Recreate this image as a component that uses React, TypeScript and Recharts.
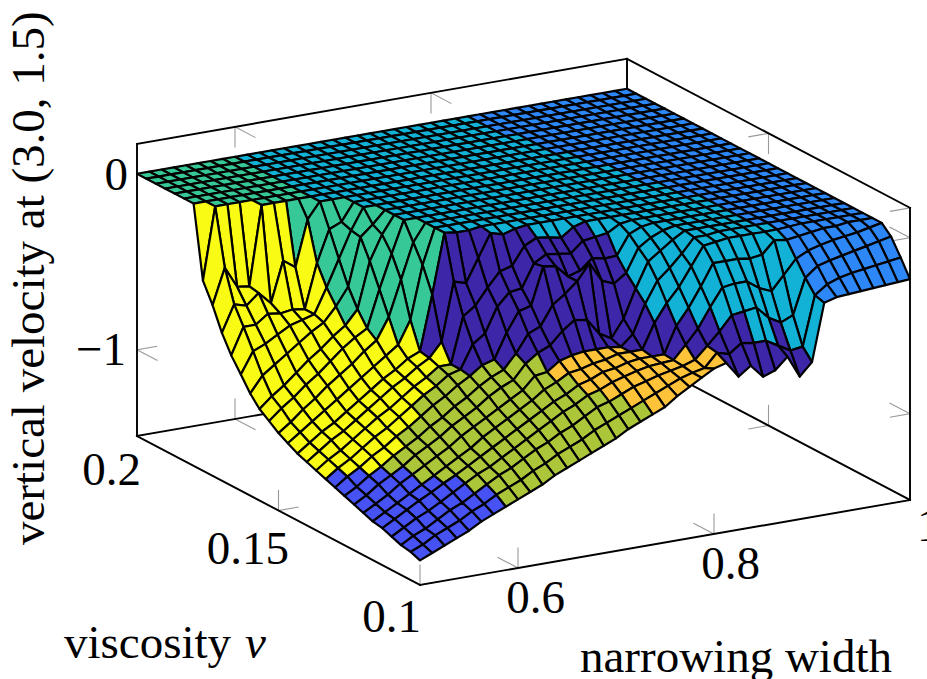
import { ScatterChart, Scatter, XAxis, YAxis } from 'recharts';

const WIDTH = 927;
const HEIGHT = 679;

const narrowingWidths = [
  0.5, 0.5125, 0.525, 0.5375, 0.55, 0.5625, 0.575, 0.5875, 0.6, 0.6125, 0.625, 0.6375, 0.65, 0.6625, 0.675, 0.6875,
  0.7, 0.7125, 0.725, 0.7375, 0.75, 0.7625, 0.775, 0.7875, 0.8, 0.8125, 0.825, 0.8375, 0.85, 0.8625, 0.875, 0.8875,
  0.9, 0.9125, 0.925, 0.9375, 0.95, 0.9625, 0.975, 0.9875, 1,
];
const viscosities = [
  0.1, 0.1033, 0.1067, 0.11, 0.1133, 0.1167, 0.12, 0.1233, 0.1267, 0.13, 0.1333, 0.1367, 0.14, 0.1433, 0.1467, 0.15,
  0.1533, 0.1567, 0.16, 0.1633, 0.1667, 0.17, 0.1733, 0.1767, 0.18, 0.1833, 0.1867, 0.19, 0.1933, 0.1967, 0.2,
];

// one row per narrowing width, one value per viscosity
const velocityRows = [
  [-1.35,-1.33,-1.32,-1.30,-1.28,-1.27,-1.25,-1.23,-1.21,-1.19,-1.17,-1.15,-1.13,-1.11,-1.08,-1.05,-1.01,-.97,-.91,-.83,-.75,-.65,-.52,-.41,0,0,0,0,0,0,0],
  [-1.32,-1.30,-1.28,-1.26,-1.24,-1.23,-1.21,-1.19,-1.17,-1.14,-1.12,-1.10,-1.08,-1.06,-1.03,-1.00,-.95,-.91,-.82,-.71,-.60,-.50,-.32,0,0,0,0,0,0,0,0],
  [-1.29,-1.26,-1.25,-1.22,-1.20,-1.19,-1.17,-1.14,-1.12,-1.10,-1.08,-1.06,-1.03,-1.01,-.98,-.94,-.90,-.86,-.77,-.68,-.60,-.52,-.44,0,0,0,0,0,0,0,0],
  [-1.26,-1.23,-1.21,-1.19,-1.16,-1.15,-1.12,-1.10,-1.08,-1.05,-1.03,-1.01,-.99,-.97,-.93,-.89,-.84,-.80,-.72,-.64,-.55,-.46,-.45,0,0,0,0,0,0,0,0],
  [-1.23,-1.20,-1.17,-1.15,-1.125,-1.11,-1.08,-1.06,-1.03,-1.01,-.98,-.96,-.94,-.92,-.88,-.83,-.79,-.74,-.67,-.60,-.56,-.53,0,0,0,0,0,0,0,0,0],
  [-1.19,-1.16,-1.14,-1.11,-1.085,-1.07,-1.04,-1.01,-.99,-.96,-.94,-.91,-.89,-.87,-.83,-.78,-.73,-.69,-.62,-.58,-.55,-.30,0,0,0,0,0,0,0,0,0],
  [-1.16,-1.13,-1.10,-1.07,-1.05,-1.03,-1.00,-.97,-.95,-.92,-.89,-.87,-.84,-.82,-.78,-.73,-.67,-.63,-.58,-.56,-.56,-.35,0,0,0,0,0,0,0,0,0],
  [-1.13,-1.09,-1.06,-1.03,-1.01,-.99,-.96,-.93,-.90,-.87,-.84,-.82,-.79,-.77,-.73,-.67,-.62,-.58,-.50,-.42,-.31,-.09,0,0,0,0,0,0,0,0,0],
  [-1.10,-1.06,-1.02,-1.00,-.97,-.95,-.91,-.88,-.86,-.82,-.79,-.77,-.75,-.73,-.68,-.62,-.58,-.50,-.40,-.27,-.13,0,0,0,0,0,0,0,0,0,0],
  [-1.07,-1.03,-.99,-.96,-.93,-.90,-.87,-.84,-.81,-.78,-.75,-.73,-.70,-.68,-.63,-.50,-.37,-.24,-.13,-.12,-.10,0,0,0,0,0,0,0,0,0,0],
  [-1.04,-.99,-.95,-.92,-.89,-.86,-.83,-.80,-.77,-.73,-.70,-.68,-.66,-.65,-.50,-.30,-.18,-.10,-.07,0,0,0,0,0,0,0,0,0,0,0,0],
  [-1.00,-.96,-.91,-.88,-.85,-.82,-.79,-.75,-.72,-.69,-.68,-.68,-.58,-.34,-.20,-.10,0,0,0,0,0,0,0,0,0,0,0,0,0,0,0],
  [-.97,-.92,-.88,-.84,-.81,-.78,-.75,-.71,-.68,-.64,-.55,-.42,-.25,0,0,0,0,0,0,0,0,0,0,0,0,0,0,0,0,0,0],
  [-.94,-.89,-.84,-.80,-.77,-.74,-.71,-.68,-.65,-.62,-.50,-.37,-.27,-.01,0,0,0,0,0,0,0,0,0,0,0,0,0,0,0,0,0],
  [-.91,-.86,-.81,-.76,-.73,-.69,-.64,-.60,-.57,-.48,-.36,-.28,-.14,-.01,0,0,0,0,0,0,0,0,0,0,0,0,0,0,0,0,0],
  [-.88,-.82,-.77,-.73,-.70,-.66,-.63,-.55,-.47,-.37,-.29,-.20,-.01,0,0,0,0,0,0,0,0,0,0,0,0,0,0,0,0,0,0],
  [-.85,-.79,-.73,-.69,-.66,-.62,-.58,-.52,-.44,-.35,-.28,-.18,-.03,0,0,0,0,0,0,0,0,0,0,0,0,0,0,0,0,0,0],
  [-.81,-.76,-.71,-.67,-.64,-.61,-.56,-.45,-.33,-.14,-.15,-.08,-.01,0,0,0,0,0,0,0,0,0,0,0,0,0,0,0,0,0,0],
  [-.78,-.73,-.68,-.64,-.61,-.59,-.55,-.40,-.28,-.15,-.11,-.045,0,0,0,0,0,0,0,0,0,0,0,0,0,0,0,0,0,0,0],
  [-.75,-.70,-.65,-.62,-.60,-.58,-.55,-.41,-.22,-.22,-.12,-.055,0,0,0,0,0,0,0,0,0,0,0,0,0,0,0,0,0,0,0],
  [-.72,-.67,-.63,-.60,-.58,-.56,-.55,-.50,-.13,-.20,-.13,-.07,0,0,0,0,0,0,0,0,0,0,0,0,0,0,0,0,0,0,0],
  [-.67,-.64,-.61,-.585,-.57,-.56,-.56,-.54,-.24,-.14,-.07,-.02,0,0,0,0,0,0,0,0,0,0,0,0,0,0,0,0,0,0,0],
  [-.63,-.61,-.595,-.58,-.57,-.56,-.50,-.44,-.27,-.155,-.06,0,0,0,0,0,0,0,0,0,0,0,0,0,0,0,0,0,0,0,0],
  [-.59,-.59,-.58,-.575,-.57,-.42,-.34,-.28,-.22,-.15,-.05,0,0,0,0,0,0,0,0,0,0,0,0,0,0,0,0,0,0,0,0],
  [-.55,-.575,-.557,-.50,-.42,-.32,-.22,-.14,-.09,-.04,-.01,0,0,0,0,0,0,0,0,0,0,0,0,0,0,0,0,0,0,0,0],
  [-.53,-.50,-.49,-.42,-.33,-.24,-.16,-.09,-.045,-.01,0,0,0,0,0,0,0,0,0,0,0,0,0,0,0,0,0,0,0,0,0],
  [-.62,-.52,-.42,-.31,-.22,-.135,-.09,-.04,-.015,0,0,0,0,0,0,0,0,0,0,0,0,0,0,0,0,0,0,0,0,0,0],
  [-.57,-.47,-.34,-.21,-.10,-.03,-.01,0,0,0,0,0,0,0,0,0,0,0,0,0,0,0,0,0,0,0,0,0,0,0,0],
  [-.645,-.48,-.33,-.20,-.10,-.02,-.01,0,0,0,0,0,0,0,0,0,0,0,0,0,0,0,0,0,0,0,0,0,0,0,0],
  [-.62,-.48,-.32,-.20,-.10,-.01,0,0,0,0,0,0,0,0,0,0,0,0,0,0,0,0,0,0,0,0,0,0,0,0,0],
  [-.555,-.52,-.39,-.25,-.11,-.01,0,0,0,0,0,0,0,0,0,0,0,0,0,0,0,0,0,0,0,0,0,0,0,0,0],
  [-.68,-.56,-.43,-.28,-.10,-.01,0,0,0,0,0,0,0,0,0,0,0,0,0,0,0,0,0,0,0,0,0,0,0,0,0],
  [-.61,-.55,-.40,-.20,-.03,-.01,0,0,0,0,0,0,0,0,0,0,0,0,0,0,0,0,0,0,0,0,0,0,0,0,0],
  [-.285,-.27,-.20,-.12,-.04,-.01,0,0,0,0,0,0,0,0,0,0,0,0,0,0,0,0,0,0,0,0,0,0,0,0,0],
  [-.265,-.22,-.145,-.085,-.03,-.005,0,0,0,0,0,0,0,0,0,0,0,0,0,0,0,0,0,0,0,0,0,0,0,0,0],
  [-.26,-.195,-.125,-.065,-.02,0,0,0,0,0,0,0,0,0,0,0,0,0,0,0,0,0,0,0,0,0,0,0,0,0,0],
  [-.255,-.18,-.11,-.05,-.01,0,0,0,0,0,0,0,0,0,0,0,0,0,0,0,0,0,0,0,0,0,0,0,0,0,0],
  [-.25,-.17,-.095,-.04,-.01,0,0,0,0,0,0,0,0,0,0,0,0,0,0,0,0,0,0,0,0,0,0,0,0,0,0],
  [-.245,-.16,-.08,-.03,0,0,0,0,0,0,0,0,0,0,0,0,0,0,0,0,0,0,0,0,0,0,0,0,0,0,0],
  [-.24,-.15,-.065,-.015,0,0,0,0,0,0,0,0,0,0,0,0,0,0,0,0,0,0,0,0,0,0,0,0,0,0,0],
  [-.235,-.14,-.05,0,0,0,0,0,0,0,0,0,0,0,0,0,0,0,0,0,0,0,0,0,0,0,0,0,0,0,0],
];

// flow regime of each cell, run-length per width row
const regimeRows = [
  '10L14Y6G', '9L14Y7G', '8L15Y7G', '7L1O15Y7G', '5L3O14Y8G', '4L5O13Y8G', '2L7O12Y9G', '10O7Y13G',
  '10O5Y6G9C', '11O3Y7G9C', '11O1Y1I6G11C', '9O4I3G14C', '9O4I17C', '8O5I17C', '7O6I17C', '5O1R6I18C',
  '3O3R6I18C', '2O4R6I18C', '1O5R5I19C', '6R5I19C', '6R5I19C', '5R6I19C', '4R6I20C', '3R2I25C',
  '2R2I26C', '3I27C', '2I28C', '2I24C4B', '1I21C8B', '1I18C11B', '2I13C15B', '1I11C18B', '6C24B',
  '30B', '30B', '30B', '30B', '30B', '30B', '30B',
];
const regimeColors: Record<string, string> = {
  I: '#3e26a8',
  L: '#4752f4',
  B: '#2d87f7',
  C: '#12b1d6',
  G: '#37c897',
  O: '#abc739',
  R: '#fec338',
  Y: '#f9fb14',
};

const widthTicks = [0.6, 0.8, 1];
const viscosityTicks = [0.1, 0.15, 0.2];
const velocityTicks = [0, -1];

const Z_MIN = -1.49;
const Z_MAX = 0.17;

// fixed axonometric view of the pgfplots box
const project = (w: number, nu: number, z: number) => ({
  x: 420 + (w - 0.5) * 980 - (nu - 0.1) * 2830,
  y: 585 - (w - 0.5) * 170 - (nu - 0.1) * 1490 - (z - Z_MIN) * 176,
});

const surfacePoints = narrowingWidths.flatMap((w, i) =>
  viscosities.map((nu, j) => project(w, nu, velocityRows[i][j])),
);

const expandRuns = (row: string) =>
  [...row.matchAll(/(\d+)([A-Z])/g)].flatMap((m) => Array(Number(m[1])).fill(m[2]));
const regimes = regimeRows.map(expandRuns);

const segment = (a: number[], b: number[]) => [project(a[0], a[1], a[2]), project(b[0], b[1], b[2])];

const boxLines = [
  segment([0.5, 0.2, Z_MIN], [1, 0.2, Z_MIN]),
  segment([1, 0.2, Z_MIN], [1, 0.1, Z_MIN]),
  segment([1, 0.2, Z_MIN], [1, 0.2, Z_MAX]),
  segment([0.5, 0.2, Z_MAX], [1, 0.2, Z_MAX]),
  segment([1, 0.2, Z_MAX], [1, 0.1, Z_MAX]),
  segment([0.5, 0.2, Z_MIN], [0.5, 0.2, Z_MAX]),
  segment([1, 0.1, Z_MIN], [1, 0.1, Z_MAX]),
  segment([0.5, 0.2, Z_MIN], [0.5, 0.1, Z_MIN]),
  segment([0.5, 0.1, Z_MIN], [1, 0.1, Z_MIN]),
].flat();

const DW = 0.02;
const DNU = 0.00707;
const DZ = 0.114;
const tickLines = [
  ...velocityTicks.flatMap((z) => [
    segment([0.5, 0.2, z], [0.5 + DW, 0.2, z]),
    segment([0.5, 0.2, z], [0.5, 0.2 - DNU, z]),
    segment([1, 0.1, z], [1 - DW, 0.1, z]),
    segment([1, 0.1, z], [1, 0.1 + DNU, z]),
  ]),
  ...widthTicks.flatMap((w) => [
    segment([w, 0.1, Z_MIN], [w, 0.1, Z_MIN + DZ]),
    segment([w, 0.1, Z_MIN], [w, 0.1 + DNU, Z_MIN]),
    segment([w, 0.2, Z_MIN], [w, 0.2, Z_MIN + DZ]),
    segment([w, 0.2, Z_MIN], [w, 0.2 - DNU, Z_MIN]),
    segment([w, 0.2, Z_MAX], [w, 0.2, Z_MAX - DZ]),
    segment([w, 0.2, Z_MAX], [w, 0.2 - DNU, Z_MAX]),
  ]),
  ...viscosityTicks.flatMap((nu) => [
    segment([0.5, nu, Z_MIN], [0.5, nu, Z_MIN + DZ]),
    segment([0.5, nu, Z_MIN], [0.5 + DW, nu, Z_MIN]),
    segment([1, nu, Z_MIN], [1, nu, Z_MIN + DZ]),
    segment([1, nu, Z_MIN], [1 - DW, nu, Z_MIN]),
    segment([1, nu, Z_MAX], [1, nu, Z_MAX - DZ]),
    segment([1, nu, Z_MAX], [1 - DW, nu, Z_MAX]),
  ]),
].flat();

const labels = [
  { x: 128, y: 190, text: '0', anchor: 'end' },
  { x: 126, y: 365, text: '\u22121', anchor: 'end' },
  { x: 141, y: 485, text: '0.2', anchor: 'end' },
  { x: 289, y: 564, text: '0.15', anchor: 'end' },
  { x: 421, y: 632, text: '0.1', anchor: 'end' },
  { x: 565, y: 613, text: '0.6', anchor: 'end' },
  { x: 760, y: 579, text: '0.8', anchor: 'end' },
  { x: 917, y: 541, text: '1', anchor: 'start' },
  { x: 64, y: 658, text: 'viscosity', anchor: 'start' },
  { x: 580, y: 672, text: 'narrowing width', anchor: 'start' },
];
const yTitle = [{ x: 44, y: 545, text: 'vertical velocity at (3.0, 1.5)' }];
const nuLabel = [{ x: 245, y: 658, text: '\u03bd' }];

const FONT = '"Liberation Serif", "Times New Roman", serif';
const FONT_SIZE = 47;

const noDot = () => <g />;

const surfaceShape = ({ points }: any) => {
  const n = viscosities.length;
  const cells: any[] = [];
  // back to front so nearer walls cover the plateau behind them
  for (let j = n - 2; j >= 0; j--) {
    for (let i = narrowingWidths.length - 2; i >= 0; i--) {
      const a = points[i * n + j];
      const b = points[(i + 1) * n + j];
      const c = points[(i + 1) * n + j + 1];
      const d = points[i * n + j + 1];
      cells.push(
        <polygon
          key={`${i}-${j}`}
          points={`${a.x},${a.y} ${b.x},${b.y} ${c.x},${c.y} ${d.x},${d.y}`}
          fill={regimeColors[regimes[i][j]]}
          stroke="#000"
          strokeWidth={2.2}
          strokeLinejoin="round"
        />,
      );
    }
  }
  return <g>{cells}</g>;
};

const segmentShape = (color: string, width: number) => ({ points }: any) => (
  <g>
    {points
      .filter((_: any, k: number) => k % 2 === 0)
      .map((p: any, k: number) => {
        const q = points[k * 2 + 1];
        return <line key={k} x1={p.x} y1={p.y} x2={q.x} y2={q.y} stroke={color} strokeWidth={width} strokeLinecap="square" />;
      })}
  </g>
);

const LabelDot = ({ cx, cy, payload }: any) => (
  <text x={cx} y={cy} textAnchor={payload.anchor} fontFamily={FONT} fontSize={FONT_SIZE} fill="#000">
    {payload.text}
  </text>
);
const NuDot = ({ cx, cy, payload }: any) => (
  <text x={cx} y={cy} fontFamily={FONT} fontStyle="italic" fontSize={FONT_SIZE} fill="#000">
    {payload.text}
  </text>
);
const TitleDot = ({ cx, cy, payload }: any) => (
  <text x={cx} y={cy} transform={`rotate(-90 ${cx} ${cy})`} fontFamily={FONT} fontSize={FONT_SIZE} fill="#000">
    {payload.text}
  </text>
);

export default function App() {
  return (
    <div style={{ position: 'absolute', left: 0, top: 0, width: WIDTH, height: HEIGHT, overflow: 'hidden', background: '#fff' }}>
      <ScatterChart width={WIDTH} height={HEIGHT} margin={{ top: 0, right: 0, bottom: 0, left: 0 }}>
        <XAxis type="number" dataKey="x" domain={[0, WIDTH]} hide allowDataOverflow />
        <YAxis type="number" dataKey="y" domain={[0, HEIGHT]} reversed hide allowDataOverflow />
        <Scatter data={tickLines} line={segmentShape('#999', 1.1)} shape={noDot} isAnimationActive={false} />
        <Scatter data={boxLines} line={segmentShape('#000', 1.9)} shape={noDot} isAnimationActive={false} />
        <Scatter data={surfacePoints} line={surfaceShape} shape={noDot} isAnimationActive={false} />
        <Scatter data={labels} shape={LabelDot} isAnimationActive={false} />
        <Scatter data={nuLabel} shape={NuDot} isAnimationActive={false} />
        <Scatter data={yTitle} shape={TitleDot} isAnimationActive={false} />
      </ScatterChart>
    </div>
  );
}
